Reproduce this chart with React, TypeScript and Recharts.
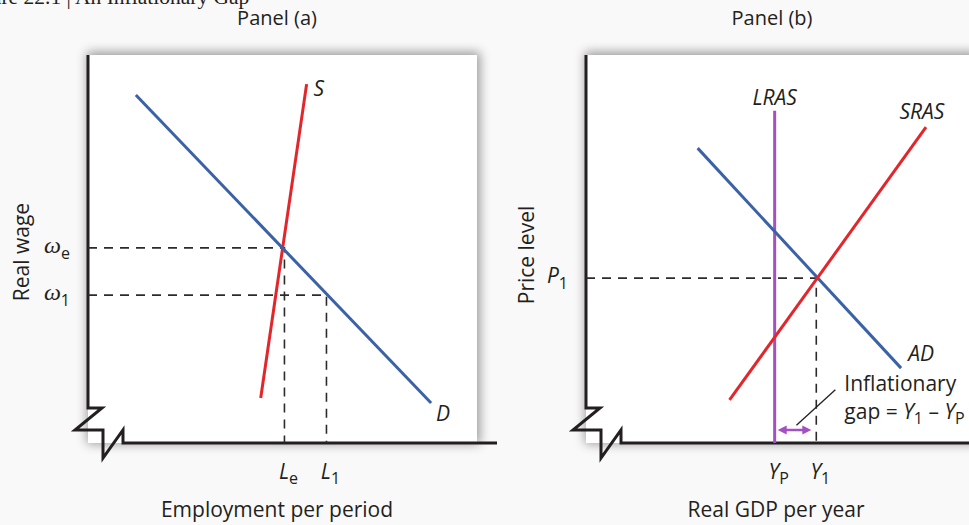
import React from 'react';
import { LineChart, Line, XAxis, YAxis } from 'recharts';

const W = 969;
const H = 525;
const SANS = '"Open Sans", "Noto Sans", sans-serif';
const SERIF = '"Liberation Serif", "DejaVu Serif", serif';

const BLUE = '#3b62a6';
const RED = '#e2262b';
const PURPLE = '#a350c2';
const INK = '#231f20';

// layout of the two framed plot areas
const PLOT_TOP = 55;
const AXIS_Y = 443;
const PLOT_W = 389;
const Y_AXIS_W = 88;
const PANEL_A_LEFT = 88;
const PANEL_B_LEFT = 586;

// panel (a): labor market
const laborDemand = [
  { x: 12.3, y: 89.7 },
  { x: 88.2, y: 10.3 },
];
const laborSupply = [
  { x: 44.4, y: 11.6 },
  { x: 56.2, y: 92.5 },
];
const Le = 50.5;
const L1 = 61.3;
const wE = 50.3;
const w1 = 38.1;
const eqGuide = [
  { x: 0, y: wE },
  { x: Le, y: wE },
  { x: Le, y: 0 },
];
const w1Guide = [
  { x: 0, y: w1 },
  { x: L1, y: w1 },
  { x: L1, y: 0 },
];
const laborXTicks = [
  { value: Le, main: 'L', sub: 'e' },
  { value: L1, main: 'L', sub: '1' },
];
const laborYTicks = [
  { value: wE, main: 'ω', sub: 'e' },
  { value: w1, main: 'ω', sub: '1' },
];

// panel (b): aggregate demand and supply
const YP = 48.5;
const Y1 = 59.2;
const P1 = 42.5;
const lras = [
  { x: YP, y: 0 },
  { x: YP, y: 85.6 },
];
const sras = [
  { x: 36.9, y: 11.1 },
  { x: 87.4, y: 81.4 },
];
const ad = [
  { x: 28.7, y: 76.0 },
  { x: 81.0, y: 19.3 },
];
const p1Guide = [
  { x: 0, y: P1 },
  { x: Y1, y: P1 },
  { x: Y1, y: 0 },
];
const gapArrow = [
  { x: 50.3, y: 3.35 },
  { x: 56.9, y: 3.35 },
];
const gapPointer = [
  { x: 54.1, y: 4.6 },
  { x: 64.1, y: 13.7 },
];
const gdpXTicks = [
  { value: YP, main: 'Y', sub: 'P' },
  { value: Y1, main: 'Y', sub: '1' },
];
const gdpYTicks = [{ value: P1, main: 'P', sub: '1' }];

type TickDef = { value: number; main: string; sub: string };

const findTick = (ticks: TickDef[], v: number) =>
  ticks.find((t) => Math.abs(t.value - v) < 1e-6);

const xTick = (ticks: TickDef[]) => (props: any) => {
  const { x, y, payload } = props;
  const t = findTick(ticks, payload.value);
  if (!t) return <g />;
  return (
    <text x={x + 4} y={y + 36} textAnchor="middle" fontFamily={SANS} fontSize={21} fill={INK}>
      <tspan fontStyle="italic">{t.main}</tspan>
      <tspan fontSize={16} dy={5}>{t.sub}</tspan>
    </text>
  );
};

const yTick = (ticks: TickDef[], greek: boolean) => (props: any) => {
  const { x, y, payload } = props;
  const t = findTick(ticks, payload.value);
  if (!t) return <g />;
  return (
    <text x={x - 18} y={y + 5} textAnchor="end" fontFamily={SANS} fontSize={21} fill={INK}>
      <tspan fontStyle="italic" fontFamily={greek ? SERIF : SANS} fontSize={greek ? 24 : 21}>
        {t.main}
      </tspan>
      <tspan fontSize={16} dy={6}>{t.sub}</tspan>
    </text>
  );
};

const endLabel = (text: string, dx: number, dy: number, anchor = 'start') => (props: any) => {
  const { cx, cy, index } = props;
  if (index !== 1) return <g key={`n${index}`} />;
  return (
    <text
      key={`l${index}`}
      x={cx + dx}
      y={cy + dy}
      textAnchor={anchor}
      fontFamily={SANS}
      fontStyle="italic"
      fontSize={21}
      fill={INK}
    >
      {text}
    </text>
  );
};

const arrowHeads = (props: any) => {
  const { cx, cy, index } = props;
  const dir = index === 0 ? -1 : 1;
  return (
    <path
      key={`a${index}`}
      d={`M${cx + dir * 4},${cy} L${cx - dir * 5},${cy - 4.5} L${cx - dir * 5},${cy + 4.5} Z`}
      fill={PURPLE}
    />
  );
};

const gapText = (props: any) => {
  const { cx, cy, index } = props;
  if (index !== 1) return <g key={`n${index}`} />;
  return (
    <g key="gap">
      <text x={cx + 9} y={cy + 1} fontFamily={SANS} fontSize={21} fill={INK}>
        Inflationary
      </text>
      <text x={cx + 9} y={cy + 29} fontFamily={SANS} fontSize={21} fill={INK}>
        gap = <tspan fontStyle="italic">Y</tspan>
        <tspan fontSize={16} dy={5}>1</tspan>
        <tspan dy={-5}> – </tspan>
        <tspan fontStyle="italic">Y</tspan>
        <tspan fontSize={16} dy={5}>P</tspan>
      </text>
    </g>
  );
};

const guideProps = {
  stroke: '#2b2b2b',
  strokeWidth: 1.6,
  strokeDasharray: '9 7',
  dot: false,
  isAnimationActive: false,
};

const axisBreak = (left: number) =>
  `M${left},${PLOT_TOP} L${left},408 L${left + 14},408 L${left - 13},430 L${left + 15},430 ` +
  `L${left + 15},458 L${left + 35},430 L${left + 35},${AXIS_Y} L${left + PLOT_W + 20},${AXIS_Y}`;

const Frame = ({ left }: { left: number }) => (
  <div
    style={{
      position: 'absolute',
      left,
      top: PLOT_TOP,
      width: PLOT_W,
      height: AXIS_Y - PLOT_TOP,
      background: '#ffffff',
      boxShadow: '1px -1px 10px 2px rgba(0,0,0,0.38)',
    }}
  />
);

const App = () => {
  return (
    <div
      style={{
        position: 'absolute',
        left: 0,
        top: 0,
        width: W,
        height: H,
        overflow: 'hidden',
        background: '#f9f9f9',
      }}
    >
      <Frame left={PANEL_A_LEFT} />
      <Frame left={PANEL_B_LEFT} />
      <svg width={W} height={H} style={{ position: 'absolute', left: 0, top: 0 }}>
        <text x={-38} y={4} fontFamily={SERIF} fontSize={21.5} fill={INK}>
          Figure 22.1 | An Inflationary Gap
        </text>
        <text x={277} y={25} textAnchor="middle" fontFamily={SANS} fontSize={20} fill={INK}>
          Panel (a)
        </text>
        <text x={772} y={25} textAnchor="middle" fontFamily={SANS} fontSize={20} fill={INK}>
          Panel (b)
        </text>
        <text x={277} y={517} textAnchor="middle" fontFamily={SANS} fontSize={21} fill={INK}>
          Employment per period
        </text>
        <text x={776} y={517} textAnchor="middle" fontFamily={SANS} fontSize={21} fill={INK}>
          Real GDP per year
        </text>
        <text transform="rotate(-90)" x={-252} y={29} textAnchor="middle" fontFamily={SANS} fontSize={21} fill={INK}>
          Real wage
        </text>
        <text transform="rotate(-90)" x={-255} y={534} textAnchor="middle" fontFamily={SANS} fontSize={21} fill={INK}>
          Price level
        </text>
        <path d={axisBreak(PANEL_A_LEFT)} fill="none" stroke={INK} strokeWidth={3} />
        <path d={axisBreak(PANEL_B_LEFT)} fill="none" stroke={INK} strokeWidth={3} />
      </svg>

      <div style={{ position: 'absolute', left: PANEL_A_LEFT - Y_AXIS_W, top: 0 }}>
        <LineChart
          width={Y_AXIS_W + PLOT_W}
          height={H}
          margin={{ top: PLOT_TOP, right: 0, bottom: 0, left: 0 }}
        >
          <XAxis
            type="number"
            dataKey="x"
            domain={[0, 100]}
            allowDataOverflow
            height={H - AXIS_Y}
            ticks={laborXTicks.map((t) => t.value)}
            tick={xTick(laborXTicks)}
            tickSize={0}
            tickMargin={0}
            axisLine={false}
            tickLine={false}
          />
          <YAxis
            type="number"
            domain={[0, 100]}
            allowDataOverflow
            width={Y_AXIS_W}
            ticks={laborYTicks.map((t) => t.value)}
            tick={yTick(laborYTicks, true)}
            tickSize={0}
            tickMargin={0}
            axisLine={false}
            tickLine={false}
          />
          <Line data={eqGuide} dataKey="y" {...guideProps} />
          <Line data={w1Guide} dataKey="y" {...guideProps} />
          <Line
            data={laborSupply}
            dataKey="y"
            stroke={RED}
            strokeWidth={3}
            dot={endLabel('S', 7, 12)}
            isAnimationActive={false}
          />
          <Line
            data={laborDemand}
            dataKey="y"
            stroke={BLUE}
            strokeWidth={3}
            dot={endLabel('D', 5, 18)}
            isAnimationActive={false}
          />
        </LineChart>
      </div>

      <div style={{ position: 'absolute', left: PANEL_B_LEFT - Y_AXIS_W, top: 0 }}>
        <LineChart
          width={Y_AXIS_W + PLOT_W}
          height={H}
          margin={{ top: PLOT_TOP, right: 0, bottom: 0, left: 0 }}
        >
          <XAxis
            type="number"
            dataKey="x"
            domain={[0, 100]}
            allowDataOverflow
            height={H - AXIS_Y}
            ticks={gdpXTicks.map((t) => t.value)}
            tick={xTick(gdpXTicks)}
            tickSize={0}
            tickMargin={0}
            axisLine={false}
            tickLine={false}
          />
          <YAxis
            type="number"
            domain={[0, 100]}
            allowDataOverflow
            width={Y_AXIS_W}
            ticks={gdpYTicks.map((t) => t.value)}
            tick={yTick(gdpYTicks, false)}
            tickSize={0}
            tickMargin={0}
            axisLine={false}
            tickLine={false}
          />
          <Line data={p1Guide} dataKey="y" {...guideProps} />
          <Line
            data={gapPointer}
            dataKey="y"
            stroke={INK}
            strokeWidth={1.3}
            dot={gapText}
            isAnimationActive={false}
          />
          <Line
            data={gapArrow}
            dataKey="y"
            stroke={PURPLE}
            strokeWidth={2.5}
            dot={arrowHeads}
            isAnimationActive={false}
          />
          <Line
            data={lras}
            dataKey="y"
            stroke={PURPLE}
            strokeWidth={3}
            dot={endLabel('LRAS', 0, -6, 'middle')}
            isAnimationActive={false}
          />
          <Line
            data={ad}
            dataKey="y"
            stroke={BLUE}
            strokeWidth={3}
            dot={endLabel('AD', 20, -7, 'middle')}
            isAnimationActive={false}
          />
          <Line
            data={sras}
            dataKey="y"
            stroke={RED}
            strokeWidth={3}
            dot={endLabel('SRAS', -4, -8, 'middle')}
            isAnimationActive={false}
          />
        </LineChart>
      </div>
    </div>
  );
};

export default App;
